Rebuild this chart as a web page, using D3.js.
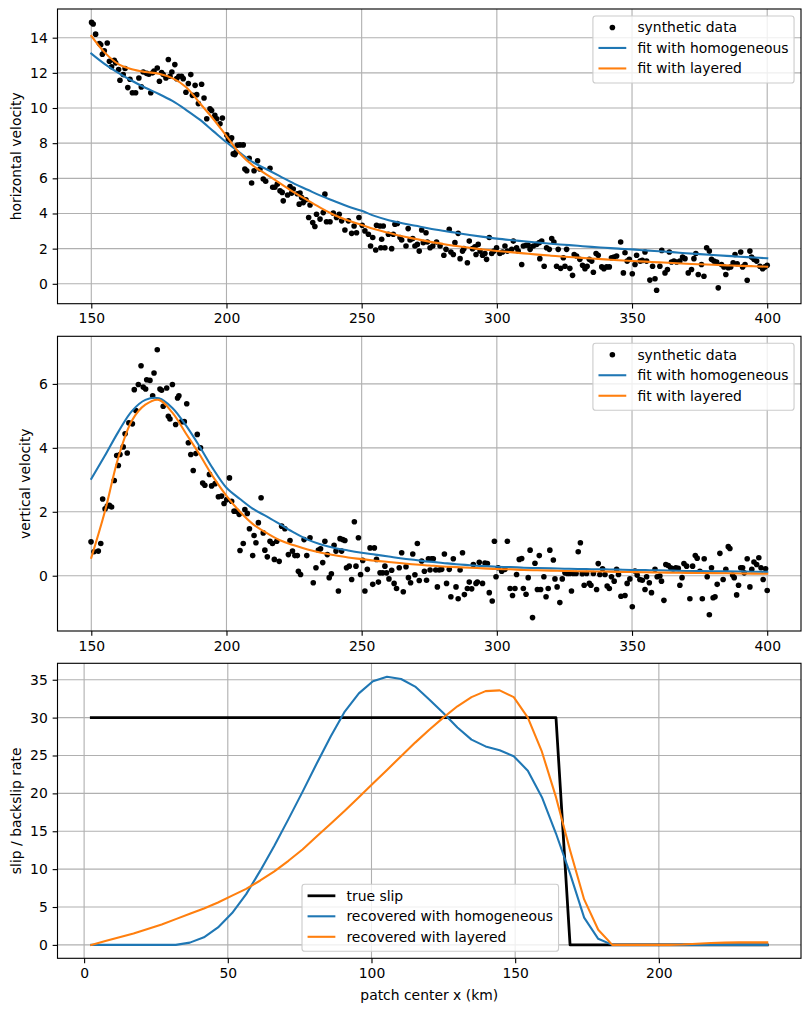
<!DOCTYPE html>
<html>
<head>
<meta charset="utf-8">
<script src="https://cdn.jsdelivr.net/npm/d3@7"></script>
<style>
  body { margin: 0; background: #fff; }
  svg text { font-family: "DejaVu Sans", sans-serif; font-size: 13.9px; fill: #000; }
</style>
</head>
<body>
<svg id="chart" width="811" height="1011"></svg>
<script>
// ---------- data ----------
// synthetic horizontal velocity [x, value]
const horizData = [
[150.1,14.87],[150.7,14.78],[151.6,14.2],[153.0,13.67],[153.5,13.6],[154.1,13.06],[154.8,13.26],[155.9,13.7],[156.7,12.66],[157.5,12.34],[158.5,12.72],[159.0,12.57],[160.1,12.19],[160.6,11.58],[161.8,11.9],[162.5,12.25],[163.5,11.16],[164.3,11.64],[165.2,10.87],[166.4,10.87],[167.6,11.71],[168.5,11.2],[169.2,12.05],[170.5,11.97],[171.3,11.92],[172.0,10.87],[172.7,12.0],[173.2,12.1],[174.4,12.28],[175.2,11.52],[176.0,12.02],[176.6,11.9],[177.6,11.71],[178.5,12.76],[179.1,11.81],[179.8,12.05],[180.9,12.47],[181.6,11.67],[182.4,11.81],[183.4,11.81],[184.0,11.67],[185.0,10.9],[185.9,11.39],[186.8,11.9],[187.4,10.72],[188.4,11.29],[189.0,10.76],[189.6,10.25],[190.8,11.35],[191.7,10.57],[192.7,9.39],[193.9,9.96],[194.5,9.86],[195.7,9.58],[196.4,9.39],[197.6,9.1],[198.5,9.43],[200.1,8.47],[200.7,8.24],[201.3,8.15],[201.9,8.3],[202.5,7.39],[203.1,7.35],[203.5,7.48],[204.0,7.89],[205.0,7.9],[206.2,7.9],[206.8,6.53],[207.5,6.43],[208.4,7.14],[209.3,5.73],[210.2,6.43],[211.5,7.0],[212.4,6.53],[213.6,5.96],[214.5,5.83],[216.1,6.57],[217.1,5.49],[217.9,5.49],[218.8,5.67],[219.8,5.29],[220.6,5.2],[221.0,4.72],[222.6,5.05],[223.5,5.53],[224.1,5.16],[224.7,5.39],[226.2,5.12],[226.9,4.53],[227.2,5.16],[227.8,4.91],[228.4,4.62],[229.4,4.78],[230.4,3.77],[230.9,4.48],[231.9,3.48],[232.7,3.26],[233.3,3.96],[234.6,3.68],[235.8,4.05],[236.4,5.1],[237.0,3.53],[238.3,3.53],[239.5,4.02],[240.7,3.77],[241.7,3.96],[242.6,3.58],[243.8,3.06],[245.1,3.58],[246.3,2.87],[247.2,3.29],[248.1,2.9],[249.0,3.77],[250.2,3.33],[251.2,3.01],[252.5,2.82],[253.3,2.15],[254.1,2.63],[255.2,1.92],[255.5,3.33],[256.8,3.29],[257.1,2.05],[257.4,2.53],[258.0,3.29],[258.6,2.05],[259.9,2.82],
[261.1,2.0],[261.7,2.82],[262.3,3.39],[263.2,3.43],[264.2,2.63],[264.8,2.49],[266.4,2.15],[267.2,3.14],[267.9,2.49],[268.9,2.57],[269.7,2.15],[270.6,2.24],[271.3,1.86],[272.2,3.06],[272.8,2.34],[273.8,2.9],[274.3,2.38],[275.3,2.05],[276.3,2.15],[277.7,2.38],[279.0,2.15],[280.4,1.62],[281.2,1.96],[282.4,3.1],[283.0,1.81],[283.9,1.67],[284.5,2.34],[285.7,2.87],[286.4,1.43],[287.3,1.86],[287.8,2.0],[289.1,1.2],[289.8,2.43],[291.0,2.0],[291.9,2.1],[292.3,1.67],[293.1,2.24],[293.8,1.86],[294.7,1.62],[295.6,1.72],[296.2,1.39],[297.2,2.63],[298.1,1.72],[298.9,1.86],[299.9,2.05],[301.1,1.72],[302.1,1.81],[303.0,2.15],[303.9,1.86],[305.5,1.96],[306.1,2.43],[307.3,2.05],[307.9,1.86],[309.2,1.1],[309.8,2.15],[310.8,2.19],[311.6,2.19],[312.3,1.96],[313.5,2.15],[314.7,2.24],[315.7,2.34],[315.9,1.43],[316.6,2.43],[317.5,1.0],[318.4,2.05],[319.4,1.96],[320.3,2.57],[321.1,2.38],[322.1,1.0],[322.7,1.96],[323.6,0.88],[324.6,1.48],[325.2,1.0],[325.8,1.96],[327.0,0.88],[328.0,0.48],[328.6,1.67],[329.5,1.58],[330.7,1.39],[331.7,1.05],[332.6,0.86],[333.4,1.0],[334.2,1.39],[335.1,1.29],[335.7,0.66],[336.7,1.72],[337.5,1.62],[338.8,0.96],[339.6,0.86],[340.6,0.96],[341.6,0.96],[342.4,1.48],[343.3,1.52],[344.3,1.58],[345.8,2.38],[346.8,0.62],[347.4,1.77],[348.2,1.29],[349.0,1.39],[350.1,0.57],[351.1,1.1],[351.7,1.62],[353.0,1.29],[353.8,1.33],[354.8,1.81],[355.4,1.29],[356.6,0.21],[357.6,1.0],[358.5,0.29],[359.1,-0.37],[360.3,1.0],[361.0,1.9],[362.2,0.62],[363.1,0.81],[363.8,1.81],[364.6,1.24],[365.5,1.29],[366.5,1.24],[367.7,1.29],[368.7,1.52],[369.6,1.43],[370.8,0.62],[372.0,0.81],[372.9,1.43],[373.6,1.72],[374.5,0.53],[375.7,1.1],[376.6,0.43],[377.6,2.05],[378.6,1.86],[379.4,1.39],[380.3,1.29],[381.3,1.24],[381.9,-0.23],[383.1,1.1],[384.0,0.96],[384.7,0.53],[385.6,0.91],[386.5,0.96],[387.4,1.19],[388.1,1.67],[388.9,1.14],[390.2,1.81],[390.9,0.96],[391.8,1.1],[392.6,0.2],[393.6,1.86],[394.2,1.52],[395.1,1.39],[396.1,1.29],[397.3,1.0],[398.3,0.86],[399.1,0.96],[400.0,1.05]
];

// synthetic vertical velocity [x, value]
const vertData = [
[149.9,1.06],[151.0,0.75],[152.6,0.77],[153.5,1.01],[154.2,2.4],[155.1,2.09],[155.9,2.18],[156.7,2.2],[157.5,2.15],[158.5,2.98],[159.4,3.76],[160.0,3.45],[160.6,3.79],[161.8,4.03],[162.5,4.44],[163.3,3.84],[163.9,4.78],[165.2,4.75],[165.9,5.82],[166.5,5.17],[167.4,5.98],[168.4,6.57],[169.2,5.9],[170.1,5.84],[170.5,6.13],[171.7,6.11],[172.7,5.63],[173.2,6.34],[174.4,7.07],[175.4,5.84],[176.0,5.8],[176.6,5.3],[177.9,5.87],[178.5,4.99],[179.1,4.9],[180.0,5.98],[181.2,4.73],[181.9,5.56],[182.4,5.63],[183.4,4.82],[184.4,4.82],[185.3,5.38],[185.9,4.16],[186.8,3.79],[187.7,3.29],[188.7,3.82],[189.2,4.42],[190.4,4.0],[191.2,2.9],[192.0,2.83],[193.7,3.17],[194.5,2.81],[195.8,2.88],[197.0,2.47],[198.2,2.49],[199.1,2.26],[200.1,2.38],[201.1,3.06],[201.9,2.33],[202.8,2.02],[203.8,2.02],[204.7,1.92],
[205.0,0.79],[206.2,1.01],[206.8,2.07],[207.7,1.95],[208.5,1.47],[209.7,0.63],[210.2,1.26],[210.9,1.03],[211.8,1.66],[212.8,2.44],[213.6,1.34],[214.2,0.8],[215.1,0.59],[216.1,1.08],[217.0,1.01],[217.7,0.51],[218.6,1.08],[219.5,0.45],[220.4,1.55],[221.6,1.47],[222.9,0.66],[223.5,1.1],[224.4,0.77],[225.3,0.63],[226.2,0.63],[226.6,0.14],[227.4,0.04],[228.7,1.13],[229.7,0.63],[230.9,1.19],[232.1,-0.22],[233.1,0.25],[234.0,0.8],[234.8,0.84],[235.6,0.41],[236.4,1.08],[237.3,0.66],[238.0,-0.06],[238.8,0.06],[239.8,0.95],[240.5,0.77],[241.4,-0.48],[242.0,1.16],[242.6,0.77],[243.0,1.13],[243.8,1.1],[244.4,0.25],[245.4,0.3],[246.3,-0.12],[247.3,1.69],[247.9,0.3],[248.8,1.19],[249.6,0.04],[250.4,0.48],[251.2,-0.48],[252.1,0.2],[253.1,0.87],[254.1,-0.27],[254.7,0.87],[255.5,0.51],[256.2,-0.2],[256.8,0.09],[257.8,0.09],[258.6,0.3],[259.2,0.09],[260.1,-0.1],[261.1,0.17],[262.0,-0.24],[262.9,-0.4],[263.9,0.25],[264.8,0.72],[265.4,-0.5],[266.4,0.28],[267.3,-0.06],[268.1,-0.22],[268.9,0.68],[269.7,0.03],[270.6,1.01],[271.3,-0.15],[272.2,0.46],[273.2,0.14],[274.0,-0.14],[274.7,0.53],[275.3,0.18],[275.9,0.53],[276.5,0.53],[277.4,0.18],[278.0,-0.35],[278.7,0.18],[279.6,0.2],[280.6,0.68],[281.4,-0.24],[282.4,0.2],[283.0,-0.66],[283.9,0.53],[284.9,-0.35],[285.7,-0.72],[286.4,0.18],[287.3,0.72],[288.0,-0.59],[289.1,-0.4],[289.8,-0.2],[290.7,-0.41],[291.3,0.35],[292.3,-0.24],[292.8,-0.2],[293.5,0.42],[294.7,-0.24],[295.6,0.4],[296.5,0.38],[297.2,-0.53],[298.3,-0.79],[299.1,1.08],[299.7,-0.03],[300.5,0.25],[301.8,0.14],[303.0,0.2],[303.9,1.08],[304.9,-0.4],[305.8,-0.62],[306.7,-0.4],[307.3,0.04],[308.3,0.51],[309.2,0.54],[309.8,-0.4],[310.8,-0.58],[311.6,-0.06],[312.3,0.8],[313.2,-1.31],[314.1,0.39],[315.0,-0.43],[315.7,0.63],[316.2,-0.43],[317.4,-0.03],[318.2,-0.66],[319.0,-0.4],[319.6,0.8],[320.9,0.49],[321.5,-0.1],[322.3,-0.35],[323.3,-0.84],[324.2,-0.1],[325.2,0.09],[326.1,0.07],[327.0,0.07],[327.6,-0.48],[328.3,0.07],[329.3,0.07],[330.1,0.75],[330.9,1.03],[331.6,0.06],[332.3,-0.3],[333.2,0.07],[334.2,-0.24],[334.8,-0.3],[335.7,0.07],[336.9,-0.43],[337.5,0.38],[338.1,0.04],[339.1,0.22],[340.0,0.04],[340.8,-0.32],[341.6,-0.4],[342.4,-0.03],[343.4,-0.17],[344.3,0.2],[345.0,0.04],[345.9,-0.64],[347.4,-0.62],[348.2,-0.24],[349.2,-0.1],[350.1,-0.97],[351.1,0.15],[351.9,0.02],[352.9,-0.12],[353.8,-0.14],[354.8,-0.43],[355.4,-0.03],[356.4,-0.22],[357.2,-0.53],[358.5,0.2],[359.3,-0.03],[360.3,-0.01],[360.9,-0.17],[361.8,-0.77],[362.5,0.35],[363.4,0.32],[364.3,0.25],[365.2,0.22],[366.2,0.25],[367.1,0.23],[367.7,-0.3],[368.5,-0.06],[369.2,0.38],[370.2,0.3],[371.4,-0.72],[372.4,0.3],[373.4,0.63],[374.1,0.55],[375.1,0.14],[376.0,-0.72],[376.7,0.53],[377.8,-0.03],[378.6,-1.22],[379.4,0.25],[380.0,-0.69],[380.7,-0.66],[381.5,-0.27],[382.5,0.7],[383.7,-0.12],[384.7,0.2],[385.6,0.91],[386.2,0.85],[387.2,0.02],[387.8,-0.06],[388.7,-0.6],[389.4,-0.3],[390.2,0.25],[390.9,0.25],[391.5,0.09],[392.6,0.53],[393.6,-0.35],[394.3,0.2],[395.1,0.43],[396.1,0.35],[396.9,0.56],[397.7,0.25],[398.5,-0.12],[399.4,0.22],[400.0,-0.46]
];

// model fits, sampled every 5 along the profile
const fitX = [150,155,160,165,170,175,180,185,190,195,200,205,210,215,220,225,230,235,240,245,250,255,260,265,270,275,280,285,290,295,300,305,310,315,320,325,330,335,340,345,350,355,360,365,370,375,380,385,390,395,400];
const horizHomog = [13.1,12.5,12.0,11.55,11.15,10.8,10.4,9.9,9.35,8.7,8.05,7.45,6.9,6.5,6.1,5.7,5.35,5.0,4.7,4.4,4.15,3.85,3.62,3.45,3.3,3.15,3.02,2.9,2.78,2.67,2.57,2.49,2.42,2.35,2.28,2.22,2.16,2.1,2.05,2.0,1.96,1.9,1.85,1.8,1.74,1.69,1.64,1.59,1.54,1.5,1.45];
const horizLayered = [14.1,13.15,12.5,12.2,12.05,11.95,11.7,11.2,10.3,9.4,8.4,7.4,6.7,6.2,5.7,5.2,4.75,4.3,3.9,3.6,3.35,3.1,2.9,2.7,2.55,2.4,2.27,2.15,2.05,1.95,1.87,1.8,1.73,1.66,1.6,1.54,1.49,1.44,1.39,1.34,1.3,1.26,1.22,1.18,1.14,1.11,1.08,1.05,1.02,1.0,0.97];
const vertHomog = [3.03,3.75,4.5,5.15,5.5,5.55,5.25,4.7,4.05,3.35,2.75,2.4,2.08,1.85,1.6,1.35,1.13,0.98,0.87,0.79,0.72,0.66,0.6,0.54,0.49,0.44,0.4,0.36,0.33,0.3,0.28,0.27,0.25,0.24,0.23,0.22,0.21,0.205,0.2,0.19,0.18,0.175,0.17,0.16,0.15,0.145,0.14,0.135,0.13,0.125,0.12];
const vertLayered = [0.56,2.0,3.7,4.85,5.35,5.5,5.1,4.45,3.8,3.1,2.5,2.0,1.6,1.33,1.1,0.95,0.82,0.72,0.64,0.57,0.52,0.47,0.43,0.39,0.35,0.32,0.29,0.27,0.25,0.23,0.21,0.2,0.18,0.17,0.16,0.15,0.14,0.135,0.13,0.12,0.115,0.11,0.1,0.095,0.09,0.085,0.08,0.075,0.07,0.065,0.06];

// fault patches (km) and slip
const patchX = [2.5,7.4,12.3,17.2,22.1,27.0,31.9,36.8,41.7,46.6,51.5,56.4,61.3,66.2,71.1,76.0,80.9,85.8,90.7,95.6,100.5,105.4,110.3,115.2,120.1,125.0,129.9,134.8,139.7,144.6,149.5,154.4,159.3,164.2,169.1,174.0,178.9,183.8,188.7,193.6,198.5,203.4,208.3,213.2,218.1,223.0,227.9,232.8,237.7];
const trueSlip = [30,30,30,30,30,30,30,30,30,30,30,30,30,30,30,30,30,30,30,30,30,30,30,30,30,30,30,30,30,30,30,30,30,30,0,0,0,0,0,0,0,0,0,0,0,0,0,0,0];
const slipHomog = [0,0,0,0,0,0,0,0.3,1.0,2.3,4.2,6.7,9.8,13.1,16.6,20.2,23.9,27.5,30.8,33.2,34.8,35.4,35.1,34.1,32.4,30.6,28.7,27.1,26.2,25.7,24.9,23.0,19.5,14.7,9.4,3.6,0.8,0,0,0,0,0,0,0,0,0,0,0,0];
const slipLayered = [0,0.5,1.0,1.5,2.1,2.7,3.4,4.1,4.8,5.6,6.5,7.4,8.5,9.7,11.1,12.6,14.3,16.0,17.7,19.5,21.3,23.1,24.9,26.7,28.4,30.0,31.5,32.7,33.5,33.6,32.7,30.0,25.5,19.5,12.5,6.0,2.0,0,0,0,0,0,0.05,0.15,0.25,0.3,0.33,0.33,0.33];

const profileTicks = [150, 200, 250, 300, 350, 400];
const horizTicks = [0, 2, 4, 6, 8, 10, 12, 14];
const vertTicks = [0, 2, 4, 6];
const patchTicks = [0, 50, 100, 150, 200];
const slipTicks = [0, 5, 10, 15, 20, 25, 30, 35];

// ---------- drawing ----------
const BLUE = "#1f77b4", ORANGE = "#ff7f0e";
const svg = d3.select("#chart");
const axLeft = 57.5, axRight = 801;
const PT = 100 / 72; // px per point
const FS = 13.9;     // 10pt font in px

function padded(ext) {
  // matplotlib style 5% margins
  const d = ext[1] - ext[0];
  return [ext[0] - 0.05 * d, ext[1] + 0.05 * d];
}

function make_panel(top, bottom, xExt, yExt, xTicks, yTicks, ylabel) {
  const g = svg.append("g");
  const x = d3.scaleLinear().domain(padded(xExt)).range([axLeft, axRight]);
  const y = d3.scaleLinear().domain(padded(yExt)).range([bottom, top]);

  // grid below the data
  const grid = g.append("g").attr("stroke", "#b0b0b0").attr("stroke-width", 0.8 * PT);
  grid.selectAll(".gx").data(xTicks).join("line")
    .attr("x1", (d) => x(d)).attr("x2", (d) => x(d))
    .attr("y1", top).attr("y2", bottom);
  grid.selectAll(".gy").data(yTicks).join("line")
    .attr("y1", (d) => y(d)).attr("y2", (d) => y(d))
    .attr("x1", axLeft).attr("x2", axRight);

  const data_g = g.append("g");

  // axes
  const xa = g.append("g").attr("transform", `translate(0,${bottom})`)
    .call(d3.axisBottom(x).tickValues(xTicks).tickSize(3.5 * PT).tickPadding(3.5 * PT).tickFormat(d3.format("d")));
  const ya = g.append("g").attr("transform", `translate(${axLeft},0)`)
    .call(d3.axisLeft(y).tickValues(yTicks).tickSize(3.5 * PT).tickPadding(3.5 * PT).tickFormat(d3.format("d")));
  [xa, ya].forEach((a) => {
    a.select(".domain").remove();
    a.selectAll("line").attr("stroke", "#000").attr("stroke-width", 0.8 * PT);
    a.selectAll("text").attr("font-size", null).attr("font-family", null).attr("fill", "#000");
  });

  g.append("rect")
    .attr("x", axLeft).attr("y", top)
    .attr("width", axRight - axLeft).attr("height", bottom - top)
    .attr("fill", "none").attr("stroke", "#000").attr("stroke-width", 0.8 * PT);

  // y label left of the tick labels
  let minX = axLeft;
  ya.selectAll("text").each(function () {
    const b = this.getBBox();
    const m = this.getCTM();
    minX = Math.min(minX, b.x + m.e);
  });
  g.append("text")
    .attr("transform", `translate(${minX - 4 * PT},${(top + bottom) / 2}) rotate(-90)`)
    .attr("text-anchor", "middle")
    .attr("dy", "-0.24em")
    .text(ylabel);

  return { g, data_g, x, y, top, bottom };
}

function draw_line(p, xs, ys, color, width) {
  const line = d3.line().x((d) => p.x(d[0])).y((d) => p.y(d[1]));
  p.data_g.append("path")
    .attr("d", line(xs.map((v, i) => [v, ys[i]])))
    .attr("fill", "none").attr("stroke", color)
    .attr("stroke-width", width).attr("stroke-linejoin", "round").attr("stroke-linecap", "square");
}

function draw_smooth(p, xs, ys, color) {
  const line = d3.line().curve(d3.curveCatmullRom).x((d) => p.x(d[0])).y((d) => p.y(d[1]));
  p.data_g.append("path")
    .attr("d", line(xs.map((v, i) => [v, ys[i]])))
    .attr("fill", "none").attr("stroke", color)
    .attr("stroke-width", 1.5 * PT).attr("stroke-linecap", "square");
}

function draw_dots(p, pts) {
  p.data_g.append("g").selectAll("circle").data(pts).join("circle")
    .attr("cx", (d) => p.x(d[0])).attr("cy", (d) => p.y(d[1]))
    .attr("r", 2.8).attr("fill", "#000");
}

function draw_legend(p, entries, x0, y0) {
  const lg = p.g.append("g").attr("class", "legend");
  const box = lg.append("rect");
  let maxW = 0;
  entries.forEach((e, i) => {
    const cy = y0 + 11.5 + i * 20.5;
    const hx = x0 + 0.4 * FS;
    if (e.type === "dot") {
      lg.append("circle").attr("cx", hx + FS).attr("cy", cy).attr("r", 2.8).attr("fill", e.color);
    } else {
      lg.append("line").attr("x1", hx).attr("x2", hx + 2 * FS).attr("y1", cy).attr("y2", cy)
        .attr("stroke", e.color).attr("stroke-width", e.width);
    }
    const t = lg.append("text").attr("x", hx + 2.8 * FS).attr("y", cy).attr("dy", "0.36em").text(e.label);
    maxW = Math.max(maxW, t.node().getComputedTextLength());
  });
  const w = 0.4 * FS + 2.8 * FS + maxW + 0.4 * FS;
  box.attr("x", x0).attr("y", y0).attr("width", w).attr("height", 67)
    .attr("rx", 0.2 * FS).attr("fill", "#fff").attr("fill-opacity", 0.8)
    .attr("stroke", "#cccccc").attr("stroke-width", 0.8 * PT);
  return { lg, w };
}

function legend_upper_right(p, entries) {
  // draw at x=0 to measure, then shift against the right spine
  const { lg, w } = draw_legend(p, entries, 0, p.top + 0.5 * FS);
  lg.attr("transform", `translate(${axRight - 0.5 * FS - w},0)`);
}

const velocityLegend = [
  { label: "synthetic data", type: "dot", color: "#000" },
  { label: "fit with homogeneous", type: "line", color: BLUE, width: 1.5 * PT },
  { label: "fit with layered", type: "line", color: ORANGE, width: 1.5 * PT },
];

// panel 1: horizontal velocity
const hAll = horizData.map((d) => d[1]).concat(horizHomog, horizLayered);
const p1 = make_panel(9, 303.7, [150, 400], d3.extent(hAll), profileTicks, horizTicks, "horizontal velocity");
draw_dots(p1, horizData);
draw_smooth(p1, fitX, horizHomog, BLUE);
draw_smooth(p1, fitX, horizLayered, ORANGE);
legend_upper_right(p1, velocityLegend);

// panel 2: vertical velocity
const vAll = vertData.map((d) => d[1]).concat(vertHomog, vertLayered);
const p2 = make_panel(336.3, 631, [150, 400], d3.extent(vAll), profileTicks, vertTicks, "vertical velocity");
draw_dots(p2, vertData);
draw_smooth(p2, fitX, vertHomog, BLUE);
draw_smooth(p2, fitX, vertLayered, ORANGE);
legend_upper_right(p2, velocityLegend);

// panel 3: slip
const sAll = trueSlip.concat(slipHomog, slipLayered);
const p3 = make_panel(663.3, 958.3, d3.extent(patchX), d3.extent(sAll), patchTicks, slipTicks, "slip / backslip rate");
draw_line(p3, patchX, trueSlip, "#000", 2 * PT);
draw_line(p3, patchX, slipHomog, BLUE, 1.5 * PT);
draw_line(p3, patchX, slipLayered, ORANGE, 1.5 * PT);
draw_legend(p3, [
  { label: "true slip", type: "line", color: "#000", width: 2 * PT },
  { label: "recovered with homogeneous", type: "line", color: BLUE, width: 1.5 * PT },
  { label: "recovered with layered", type: "line", color: ORANGE, width: 1.5 * PT },
], 302, 884.3);

svg.append("text")
  .attr("x", (axLeft + axRight) / 2).attr("y", 1000)
  .attr("text-anchor", "middle")
  .text("patch center x (km)");
</script>
</body>
</html>
